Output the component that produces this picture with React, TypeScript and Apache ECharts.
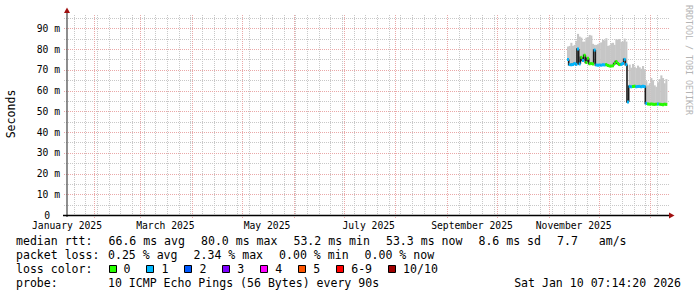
import React, { useEffect, useRef } from "react";
import * as echarts from "echarts";

// x = day number (0 = 1 Jan 2025), y = milliseconds
const X_MIN = 15;
const X_MAX = 375;
const Y_MAX = 96.4;

const monthLabelDays = [15, 74, 135, 196, 258, 319];
const monthLabels = ["January 2025", "March 2025", "May 2025", "July 2025", "September 2025", "November 2025"];
const monthStartDays = [31, 59, 90, 120, 151, 181, 212, 243, 273, 304, 334, 365];
const weekStartDays = [19, 26, 33, 40, 47, 54, 61, 68, 75, 82, 89, 96, 103, 110, 117, 124, 131, 138, 145, 152, 159, 166, 173, 180, 187, 194, 201, 208, 215, 222, 229, 236, 243, 250, 257, 264, 271, 278, 285, 292, 299, 306, 313, 320, 327, 334, 341, 348, 355, 362, 369];
const yTickValues = [0, 10, 20, 30, 40, 50, 60, 70, 80, 90];
const yMinorValues = [5, 15, 25, 35, 45, 55, 65, 75, 85, 95];

const days = [316, 317, 318, 319, 320, 321, 322, 323, 324, 325, 326, 327, 328, 329, 330, 331, 332, 333, 334, 335, 336, 337, 338, 339, 340, 341, 342, 343, 344, 345, 346, 347, 348, 349, 350, 351,
  352, 353, 354, 355, 356, 357, 358, 359, 360, 361, 362,
  363, 364, 365, 366, 367, 368, 369, 370, 371, 372, 373, 374, 375];
const smokeMax = [81.2, 81.5, 83, 81.5, 82, 84, 87.3, 86, 85.5, 83.5, 83.6, 85.5, 85.7, 86.8, 86.5, 82.5, 82, 82, 82.3, 83, 83.2, 84.4, 84.2, 85.2, 81.5, 81.8, 82.8, 83, 82, 84.7, 84.5, 84.8, 83.5, 83.6, 85, 83.6,
  56, 72.5, 71, 72.8, 71.5, 70.8, 72, 71.2, 70.5, 71.8, 70.3,
  64.5, 62.5, 63.5, 66, 65, 62.5, 61.8, 64, 65.5, 67.3, 66, 63.5, 65.5];
const medianRtt = [75.0, 72.5, 72.4, 72.6, 73.0, 72.6, 80.0, 72.8, 76.0, 74.5, 77.0, 73.5, 75.5, 72.9, 73.0, 72.8, 79.5, 72.3, 72.2, 72.3, 72.2, 72.4, 72.3, 72.5, 72.1, 71.8, 71.8, 71.9, 73.0, 74.0, 73.0, 72.5, 72.6, 73.0, 75.0, 72.5,
  54.5, 62, 61.8, 61.9, 62.1, 61.8, 61.9, 62, 61.8, 62, 61.9,
  53.8, 53.5, 53.4, 53.5, 53.4, 53.3, 53.4, 53.5, 53.4, 53.3, 53.2, 53.4, 53.3];
const lossCount = [1, 1, 1, 1, 1, 1, 1, 1, 0, 1, 0, 0, 0, 0, 0, 0, 1, 1, 1, 1, 1, 1, 1, 0, 0, 0, 0, 0, 0, 0, 0, 0, 1, 1, 1, 1,
  1, 1, 1, 0, 0, 1, 1, 1, 1, 1, 1,
  1, 0, 0, 0, 0, 0, 0, 1, 0, 0, 0, 0, 0];

const statLabels = ["median rtt:", "packet loss:", "loss color:", "probe:"];
const rttStats = ["66.6 ms avg", "80.0 ms max", "53.2 ms min", "53.3 ms now", "8.6 ms sd", "7.7   am/s"];
const lossStats = ["0.25 % avg", "2.34 % max", "0.00 % min", "0.00 % now"];
const lossLegendLabels = ["0", "1", "2", "3", "4", "5", "6-9", "10/10"];
const lossLegendColors = ["#26ff00", "#00b8ff", "#0059ff", "#7e00ff", "#ff00ff", "#ff5500", "#ff0000", "#a00000"];
const probeText = "10 ICMP Echo Pings (56 Bytes) every 90s";
const stampText = "Sat Jan 10 07:14:20 2026";
const yAxisTitle = "Seconds";
const watermark = "RRDTOOL / TOBI OETIKER";

const MONO = '"DejaVu Sans Mono", monospace';
const GL = 67, GT = 15, GW = 600, GH = 200;
const LEG_FS = 11.55;
const CW = LEG_FS * 0.602;
const GAP = 16;

function lossIndex(n: number) {
  if (n <= 5) return n;
  if (n < 10) return 6;
  return 7;
}

const nb = (s: string) => s.replace(/ /g, "\u00a0");

export default function App() {
  const ref = useRef<HTMLDivElement>(null);
  useEffect(() => {
    const chart = echarts.init(ref.current!, null, { renderer: "svg", width: 697, height: 297 });

    const vLines = (vals: number[], color: string, ext: number, z: number) => ({
      type: "custom", coordinateSystem: "cartesian2d", z, silent: true, clip: false,
      data: vals.map((v) => [v, 0]),
      encode: { x: 0, y: 1 },
      renderItem: (_p: any, api: any) => {
        const b = api.coord([api.value(0), 0]);
        const t = api.coord([api.value(0), Y_MAX]);
        const x = Math.round(b[0]) + 0.5;
        return { type: "line", shape: { x1: x, y1: t[1], x2: x, y2: b[1] + ext }, style: { stroke: color, lineWidth: 1, lineDash: [1, 1] } };
      },
    });
    const hLines = (vals: number[], color: string, z: number) => ({
      type: "custom", coordinateSystem: "cartesian2d", z, silent: true, clip: false,
      data: vals.map((v) => [X_MIN, v]),
      encode: { x: 0, y: 1 },
      renderItem: (_p: any, api: any) => {
        const l = api.coord([X_MIN, api.value(1)]);
        const r = api.coord([X_MAX, api.value(1)]);
        const y = Math.round(l[1]) + 0.5;
        return { type: "line", shape: { x1: l[0] - 3, y1: y, x2: r[0] + 2, y2: y }, style: { stroke: color, lineWidth: 1, lineDash: [1, 1] } };
      },
    });

    const minorWeeks = weekStartDays.filter((d) => monthStartDays.indexOf(d) < 0);
    const minorColor = "#c8c8c8";
    const majorColor = "#eaa8a8";

    const graphic: any[] = [];
    // axes
    graphic.push({ type: "line", z: 100, shape: { x1: GL, y1: GT + GH + 2, x2: GL, y2: GT - 3 }, style: { stroke: "#444", lineWidth: 1.2 } });
    graphic.push({ type: "line", z: 100, shape: { x1: GL - 4, y1: GT + GH + 0.5, x2: GL + GW + 3, y2: GT + GH + 0.5 }, style: { stroke: "#000", lineWidth: 1.6 } });
    graphic.push({ type: "polygon", z: 101, shape: { points: [[GL - 3, GT - 2], [GL + 3, GT - 2], [GL, GT - 7.5]] }, style: { fill: "#a01010" } });
    graphic.push({ type: "polygon", z: 101, shape: { points: [[GL + GW + 2, GT + GH - 2.5], [GL + GW + 2, GT + GH + 3.5], [GL + GW + 7.5, GT + GH + 0.5]] }, style: { fill: "#a01010" } });
    // titles
    graphic.push({ type: "text", z: 100, x: 11, y: GT + GH / 2 - 1, rotation: Math.PI / 2, style: { text: yAxisTitle, fontFamily: MONO, fontSize: LEG_FS, fill: "#000", align: "center", verticalAlign: "middle" } });
    graphic.push({ type: "text", z: 100, x: 689, y: 5, rotation: -Math.PI / 2, style: { text: nb(watermark), fontFamily: MONO, fontSize: 8.3, fill: "#b4b4b4", align: "left", verticalAlign: "middle" } });

    const lineY = [241, 255, 269, 283];
    const txt = (s: string, x: number, y: number, align = "left") => ({
      type: "text", z: 100, x, y, style: { text: nb(s), fontFamily: MONO, fontSize: LEG_FS, fill: "#000", align, verticalAlign: "middle" },
    });
    statLabels.forEach((s, i) => graphic.push(txt(s, 16, lineY[i])));
    let x = 108.5;
    rttStats.forEach((s) => { graphic.push(txt(s, x, lineY[0])); x += s.length * CW + GAP; });
    x = 108;
    lossStats.forEach((s) => { graphic.push(txt(s, x, lineY[1])); x += s.length * CW + GAP; });
    x = 108.5;
    lossLegendLabels.forEach((s, i) => {
      graphic.push({ type: "rect", z: 100, shape: { x: Math.round(x) + 0.5, y: lineY[2] - 3.5, width: 7, height: 7 }, style: { fill: lossLegendColors[i], stroke: "#000", lineWidth: 1 } });
      graphic.push(txt(s, x + 15, lineY[2]));
      x += 15 + s.length * CW + GAP;
    });
    graphic.push(txt(probeText, 108, lineY[3]));
    graphic.push(txt(stampText, 681, lineY[3], "right"));

    const option: any = {
      animation: false,
      backgroundColor: "#ffffff",
      grid: { left: GL, top: GT, width: GW, height: GH, containLabel: false, outerBoundsMode: "none" },
      xAxis: {
        type: "value", min: X_MIN, max: X_MAX,
        axisLine: { show: false }, axisTick: { show: false }, splitLine: { show: false },
        axisLabel: {
          customValues: monthLabelDays,
          formatter: (v: number) => monthLabels[monthLabelDays.indexOf(v)] ?? "",
          fontFamily: MONO, fontSize: 9.7, color: "#000", margin: 5,
        },
      },
      yAxis: {
        type: "value", min: 0, max: Y_MAX,
        axisLine: { show: false }, axisTick: { show: false }, splitLine: { show: false },
        axisLabel: {
          customValues: yTickValues,
          formatter: (v: number) => (v === 0 ? "{z|0}" : `${v} m`),
          rich: { z: { fontFamily: MONO, fontSize: 9.7, color: "#000", padding: [0, 10, 0, 0] } },
          fontFamily: MONO, fontSize: 9.7, color: "#000", margin: 7,
        },
      },
      series: [
        vLines(minorWeeks, minorColor, 2, 1),
        hLines(yMinorValues, minorColor, 1),
        vLines(monthStartDays, majorColor, 3, 1.5),
        hLines(yTickValues.filter((v) => v > 0), majorColor, 1.5),
        {
          type: "custom", coordinateSystem: "cartesian2d", z: 3, silent: true,
          data: days.map((d, i) => [d, medianRtt[i], smokeMax[i]]),
          encode: { x: 0, y: [1, 2] },
          renderItem: (_p: any, api: any) => {
            const d = api.value(0);
            const a = api.coord([d - 1, api.value(2)]);
            const b = api.coord([d, api.value(1)]);
            return { type: "rect", shape: { x: a[0], y: a[1], width: b[0] - a[0] + 0.4, height: b[1] - a[1] }, style: { fill: "#c6c6c6" } };
          },
        },
        {
          type: "custom", coordinateSystem: "cartesian2d", z: 4, silent: true,
          data: days.map((d, i) => [d, medianRtt[i], i > 0 ? medianRtt[i - 1] : medianRtt[i]]),
          encode: { x: 0, y: [1, 2] },
          renderItem: (_p: any, api: any) => {
            const d = api.value(0);
            const a = api.coord([d - 1, api.value(2)]);
            const b = api.coord([d - 1, api.value(1)]);
            const c = api.coord([d, api.value(1)]);
            return { type: "polyline", shape: { points: [a, b, c] }, style: { stroke: "#1a1a1a", lineWidth: 1.6, fill: "none" } };
          },
        },
        {
          type: "custom", coordinateSystem: "cartesian2d", z: 5, silent: true,
          data: days.map((d, i) => [d, medianRtt[i], lossCount[i]]),
          encode: { x: 0, y: 1 },
          renderItem: (_p: any, api: any) => {
            const d = api.value(0);
            const a = api.coord([d - 1, api.value(1)]);
            const b = api.coord([d, api.value(1)]);
            return { type: "rect", shape: { x: a[0], y: a[1] - 1.5, width: b[0] - a[0] + 0.3, height: 3 }, style: { fill: lossLegendColors[lossIndex(api.value(2))] } };
          },
        },
      ],
      graphic,
    };
    chart.setOption(option);
    return () => chart.dispose();
  }, []);
  return <div ref={ref} style={{ position: "absolute", left: 0, top: 0, width: 697, height: 297, background: "#fff" }} />;
}
